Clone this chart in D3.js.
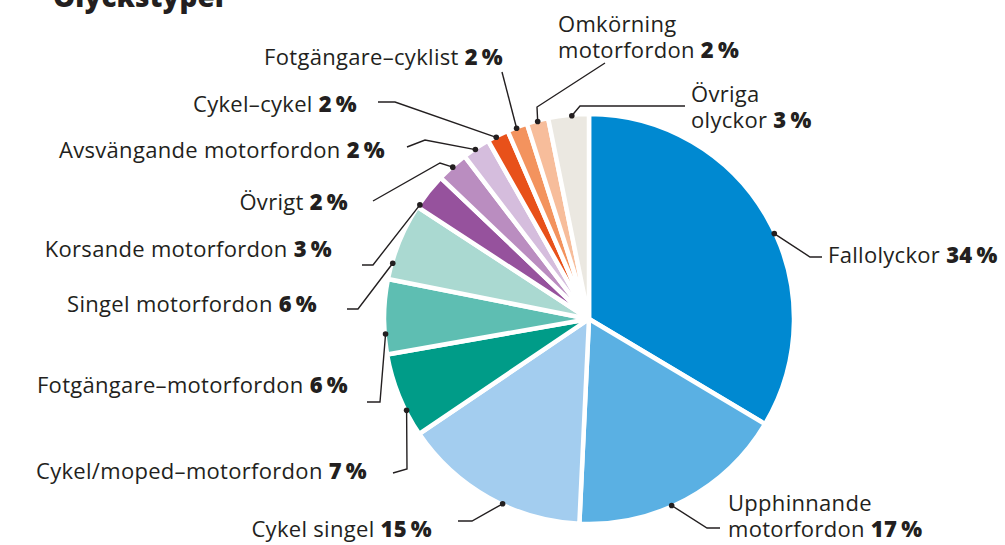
<!DOCTYPE html>
<html lang="sv">
<head>
    <meta charset="UTF-8">
    <script src="https://cdnjs.cloudflare.com/ajax/libs/d3/7.8.5/d3.min.js"></script>
    <style>
        body { margin: 0; background: #fff; }
        svg { display: block; }
        text { font-family: "Open Sans", "Noto Sans", sans-serif; fill: #231f20; }
    </style>
</head>
<body>
<svg id="chart" width="1005" height="545"></svg>
<script>
    // slices clockwise from 12 o'clock
    const categories = ['Fallolyckor', 'Upphinnande\nmotorfordon', 'Cykel singel', 'Cykel/moped–motorfordon',
        'Fotgängare–motorfordon', 'Singel motorfordon', 'Korsande motorfordon', 'Övrigt',
        'Avsvängande motorfordon', 'Cykel–cykel', 'Fotgängare–cyklist', 'Omkörning\nmotorfordon', 'Övriga\nolyckor'];
    // share of the circle (percent)
    const shares = [33.6, 17.2, 14.8, 6.7, 5.9, 6.1, 2.9, 2.5, 2.2, 1.7, 1.6, 1.7, 3.2];
    // rounded percentages printed in the labels
    const pctLabels = [34, 17, 15, 7, 6, 6, 3, 2, 2, 2, 2, 2, 3];
    const colors = ['#0089d1', '#5ab0e3', '#a3cdef', '#009c88', '#5ebeb2', '#aad9d1', '#96529d',
        '#ba8dc0', '#d5bddd', '#e8511a', '#f3935e', '#f7bd9b', '#ebe8e1'];

    // label placement: text position, where on the slice rim the leader starts (0..1), elbow points
    const labelLayout = [
        {x: 828, y: 263, anchor: 'start', t: 0.54, path: [[822, 257], [810, 257]]},
        {x: 728, y: 511, anchor: 'start', t: 0.57, path: [[720, 528], [707, 528]]},
        {x: 432, y: 537, anchor: 'end', t: 0.42, path: [[458, 521], [472, 521]]},
        {x: 367, y: 479, anchor: 'end', t: 0.31, path: [[393, 473], [407, 469]]},
        {x: 348, y: 393, anchor: 'end', t: 0.27, path: [[367, 402], [380, 402]]},
        {x: 317, y: 312, anchor: 'end', t: 0.21, path: [[347, 309], [358, 309]]},
        {x: 332, y: 257, anchor: 'end', t: 0.08, path: [[362, 265], [373, 265]]},
        {x: 348, y: 210, anchor: 'end', t: 0.5, path: [[373, 201], [440, 163]]},
        {x: 385, y: 158, anchor: 'end', t: 0.45, path: [[407, 147], [425, 140]]},
        {x: 357, y: 112, anchor: 'end', t: 0.4, path: [[378, 102], [395, 102]]},
        {x: 503, y: 65, anchor: 'end', t: 0.45, path: [[502, 72]]},
        {x: 558, y: 32, anchor: 'start', t: 0.5, path: [[605, 63], [537, 107]]},
        {x: 691, y: 102, anchor: 'start', t: 0.58, path: [[685, 106], [580, 106]]}
    ];

    const svg = d3.select('#chart');
    const cx = 589, cy = 319, radius = 205, rimR = 204;
    const lineHeight = 26;

    svg.append('text')
        .attr('x', 53).attr('y', 7)
        .style('font-size', '28px').style('font-weight', 800)
        .text('Olyckstyper');

    const pie = d3.pie().sort(null).value(d => d);
    const arcs = pie(shares);
    const arc = d3.arc().innerRadius(0).outerRadius(radius);

    const g = svg.append('g').attr('transform', `translate(${cx},${cy})`);
    g.selectAll('path.slice')
        .data(arcs).enter()
        .append('path')
        .attr('class', 'slice')
        .attr('d', arc)
        .attr('fill', (d, i) => colors[i])
        .attr('stroke', '#fff')
        .attr('stroke-width', 4.5)
        .attr('stroke-linejoin', 'round');

    function rimPoint(d, t) {
        const a = d.startAngle + t * (d.endAngle - d.startAngle);
        return [cx + rimR * Math.sin(a), cy - rimR * Math.cos(a)];
    }

    const line = d3.line();
    arcs.forEach((d, i) => {
        const lay = labelLayout[i];
        const dot = rimPoint(d, lay.t);
        svg.append('path')
            .attr('d', line(lay.path.concat([dot])))
            .attr('fill', 'none')
            .attr('stroke', '#231f20')
            .attr('stroke-width', 1.4);
        svg.append('circle')
            .attr('cx', dot[0]).attr('cy', dot[1]).attr('r', 2.8)
            .attr('fill', '#231f20');

        const rows = categories[i].split('\n');
        const txt = svg.append('text')
            .attr('x', lay.x).attr('y', lay.y)
            .attr('text-anchor', lay.anchor)
            .style('font-size', '22px')
            .style('letter-spacing', '0.3px');
        rows.forEach((r, k) => {
            const last = k === rows.length - 1;
            txt.append('tspan')
                .attr('x', lay.x)
                .attr('dy', k === 0 ? 0 : lineHeight)
                .text(last ? r + ' ' : r);
            if (last) {
                txt.append('tspan')
                    .style('font-weight', 800)
                    .text(pctLabels[i] + '\u2009%');
            }
        });
    });
</script>
</body>
</html>
